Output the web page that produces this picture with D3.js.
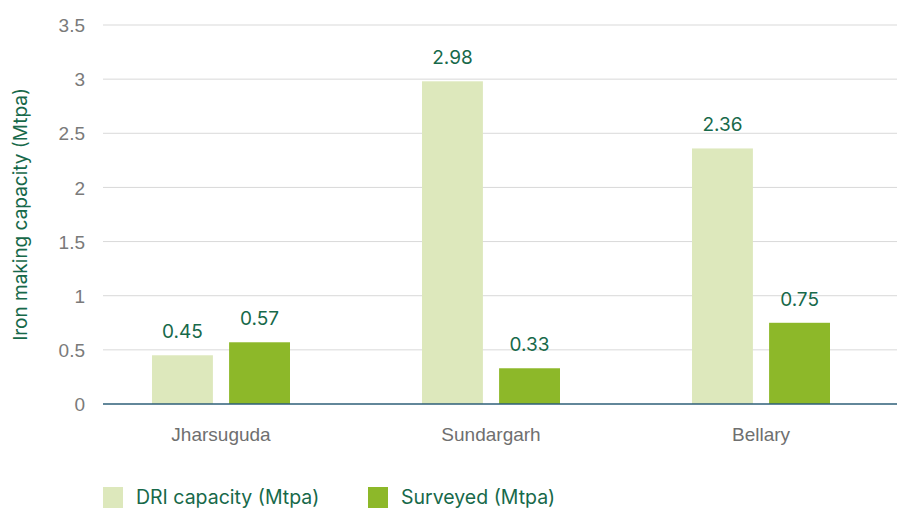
<!DOCTYPE html>
<html>
<head>
<meta charset="utf-8">
<script src="https://cdn.jsdelivr.net/npm/d3@7"></script>
<style>
  body { margin: 0; background: #fff; }
  svg { display: block; font-family: "Inter", "Open Sans", sans-serif; }
</style>
</head>
<body>
<svg id="chart" width="898" height="508"></svg>
<script>
const categories = ["Jharsuguda", "Sundargarh", "Bellary"];
const seriesNames = ["DRI capacity (Mtpa)", "Surveyed (Mtpa)"];
const driCapacity = [0.45, 2.98, 2.36];
const surveyed = [0.57, 0.33, 0.75];
const yTicks = [0, 0.5, 1, 1.5, 2, 2.5, 3, 3.5];
const colors = ["#dde8bc", "#8db829"];

const svg = d3.select("#chart");
const gridLeft = 103, gridRight = 897;

const x = d3.scaleBand().domain(categories).range([86, 896]);
const y = d3.scaleLinear().domain([0, 3.5]).range([404, 25]);
const inner = d3.scaleBand().domain(seriesNames).range([0, 138]).paddingInner(0.21);

// gridlines
svg.append("g").selectAll("line").data(yTicks.filter(d => d > 0)).join("line")
  .attr("x1", gridLeft).attr("x2", gridRight)
  .attr("y1", d => y(d)).attr("y2", d => y(d))
  .attr("stroke", "#d9d9d9").attr("stroke-width", 1);

// y tick labels
const yAxis = svg.append("g").attr("transform", `translate(${gridLeft - 15},0)`)
  .call(d3.axisLeft(y).tickValues(yTicks).tickFormat(d3.format("")).tickSize(0));
yAxis.select(".domain").remove();
yAxis.selectAll("text").attr("fill", "#7a7a7a").style("font-size", "19px")
  .attr("dy", "0.35em");

// bars
const rows = categories.map((c, i) => ({ cat: c, vals: [driCapacity[i], surveyed[i]] }));
const groups = svg.append("g").selectAll("g").data(rows).join("g")
  .attr("transform", d => `translate(${x(d.cat) + x.bandwidth() / 2 - 69},0)`);

groups.selectAll("rect").data(d => d.vals.map((v, j) => ({ v, s: seriesNames[j], j })))
  .join("rect")
  .attr("x", d => inner(d.s)).attr("width", inner.bandwidth())
  .attr("y", d => y(d.v)).attr("height", d => y(0) - y(d.v))
  .attr("fill", d => colors[d.j]);

groups.selectAll("text").data(d => d.vals.map((v, j) => ({ v, s: seriesNames[j] })))
  .join("text")
  .attr("x", d => inner(d.s) + inner.bandwidth() / 2)
  .attr("y", d => y(d.v) - 17)
  .attr("text-anchor", "middle")
  .attr("fill", "#17694a").style("font-size", "19px")
  .text(d => d.v);

// category labels and baseline
const xAxis = svg.append("g").attr("transform", `translate(0,${y(0)})`)
  .call(d3.axisBottom(x).tickSize(0).tickPadding(24));
xAxis.select(".domain").remove();
xAxis.selectAll("text").attr("fill", "#6f6f6f").style("font-size", "19px");
svg.append("line").attr("x1", gridLeft).attr("x2", gridRight)
  .attr("y1", y(0)).attr("y2", y(0)).attr("stroke", "#2e5f78").attr("stroke-width", 1.3);

// y title
svg.append("text")
  .attr("transform", `translate(27,${(y(0) + y(3.5)) / 2}) rotate(-90)`)
  .attr("text-anchor", "middle")
  .attr("fill", "#17694a").style("font-size", "19px")
  .text("Iron making capacity (Mtpa)");

// legend
const legendX = [103, 368];
const legend = svg.append("g").selectAll("g").data(seriesNames).join("g")
  .attr("transform", (d, i) => `translate(${legendX[i]},487)`);
legend.append("rect").attr("width", 20).attr("height", 21).attr("fill", (d, i) => colors[i]);
legend.append("text").attr("x", 33).attr("y", 17)
  .attr("fill", "#17694a").style("font-size", "19.5px").text(d => d);
</script>
</body>
</html>
